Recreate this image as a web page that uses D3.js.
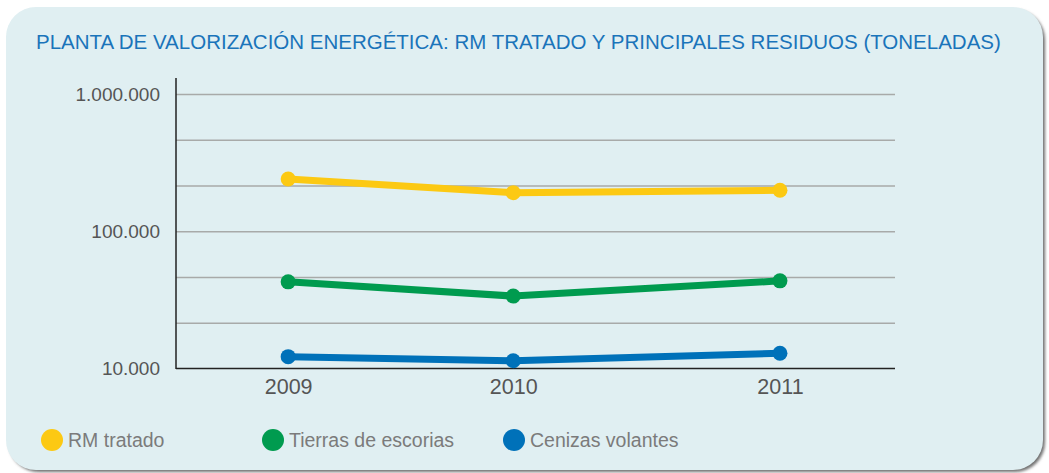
<!DOCTYPE html>
<html>
<head>
<meta charset="utf-8">
<script src="https://cdn.jsdelivr.net/npm/d3@7"></script>
<style>
  html, body { margin: 0; padding: 0; background: #fff; }
  svg { display: block; font-family: 'Liberation Sans', Arial, Helvetica, sans-serif; }
</style>
</head>
<body>
<div id="chart"></div>
<script>
const years = [2009, 2010, 2011]
const seriesNames = ['RM tratado', 'Tierras de escorias', 'Cenizas volantes']
const rmTratado = [240000, 191000, 199000]
const tierrasEscorias = [42800, 33700, 43500]
const cenizasVolantes = [12200, 11400, 12900]
const yTickLabels = [10000, 100000, 1000000]
const seriesColors = ['#fcc913', '#009b4f', '#0071b9']

const W = 1049, H = 473
const margin = { top: 94, left: 176, right: 154, bottom: 104.5 }
const plotW = W - margin.left - margin.right
const title = 'PLANTA DE VALORIZACIÓN ENERGÉTICA: RM TRATADO Y PRINCIPALES RESIDUOS (TONELADAS)'

const series = [rmTratado, tierrasEscorias, cenizasVolantes].map((values, i) => ({
  name: seriesNames[i],
  color: seriesColors[i],
  values: values.map((v, j) => ({ year: years[j], value: v }))
}))

const svg = d3.select('#chart').append('svg').attr('width', W).attr('height', H)

// panel + shadow
const defs = svg.append('defs')
const f = defs.append('filter').attr('id', 'blur').attr('x', '-5%').attr('y', '-5%').attr('width', '110%').attr('height', '110%')
f.append('feGaussianBlur').attr('stdDeviation', 1.5)
svg.append('rect').attr('x', 9).attr('y', 10).attr('width', 1036).attr('height', 462)
  .attr('rx', 30).attr('fill', '#6f6f6f').attr('filter', 'url(#blur)')
svg.append('rect').attr('x', 6).attr('y', 7).attr('width', 1037).attr('height', 463)
  .attr('rx', 30).attr('fill', '#e0eff2')

svg.append('text').attr('x', 36).attr('y', 49)
  .attr('fill', '#1a74ba').attr('font-size', 20.5).text(title)

// the source spaces the years unevenly, so the scale is piecewise
const x = d3.scaleLinear().domain(years)
  .range([0.156, 0.469, 0.84].map(t => margin.left + t * plotW))
const y = d3.scaleLog().domain([1e4, 1e6]).range([H - margin.bottom, margin.top])

// gridlines at thirds of a decade
const gridVals = d3.range(1, 7).map(k => Math.pow(10, 4 + k / 3))
svg.append('g').attr('class', 'grid')
  .attr('transform', `translate(${margin.left},0)`)
  .call(d3.axisLeft(y).tickValues(gridVals).tickSize(-plotW).tickFormat(''))
  .call(g => g.select('.domain').remove())
  .selectAll('line').attr('stroke', '#a8aaa9').attr('stroke-width', 1.4)

// y labels
const locale = d3.formatLocale({ decimal: ',', thousands: '.', grouping: [3], currency: ['', ''] })
const fmt = locale.format(',')
svg.append('g').attr('class', 'yAxis')
  .attr('transform', `translate(${margin.left},0)`)
  .call(d3.axisLeft(y).tickValues(yTickLabels).tickSize(0).tickPadding(16).tickFormat(fmt))
  .call(g => g.select('.domain').remove())
  .selectAll('text').attr('fill', '#555').attr('font-size', 19).attr('font-family', null)

// axis lines
svg.append('line').attr('x1', margin.left).attr('x2', margin.left)
  .attr('y1', 78).attr('y2', y(1e4) + 0.5).attr('stroke', '#222').attr('stroke-width', 1.5)
svg.append('g').attr('class', 'xAxis')
  .attr('transform', `translate(0,${y(1e4)})`)
  .call(d3.axisBottom(x).tickValues(years).tickFormat(d3.format('d')).tickSize(0).tickPadding(10).tickSizeOuter(0))
  .call(g => g.select('.domain').attr('d', `M${margin.left},0H${W - margin.right}`).attr('stroke', '#222').attr('stroke-width', 1.5))
  .selectAll('text').attr('fill', '#555').attr('font-size', 21.5).attr('font-family', null)

// lines
const line = d3.line().x(d => x(d.year)).y(d => y(d.value))
const sg = svg.selectAll('.series').data(series).enter().append('g').classed('series', true)
sg.append('path').attr('d', d => line(d.values)).attr('fill', 'none')
  .attr('stroke', d => d.color).attr('stroke-width', 7)
sg.selectAll('circle').data(d => d.values.map(v => Object.assign({ color: d.color }, v))).enter()
  .append('circle').attr('cx', d => x(d.year)).attr('cy', d => y(d.value)).attr('r', 7.5)
  .attr('fill', d => d.color)

// legend
const legendX = d3.scaleOrdinal().domain(seriesNames).range([52, 273, 514])
const lg = svg.selectAll('.legend').data(series).enter().append('g').classed('legend', true)
  .attr('transform', d => `translate(${legendX(d.name)},440)`)
lg.append('circle').attr('r', 11).attr('fill', d => d.color)
lg.append('text').attr('x', 16).attr('y', 6.5).attr('fill', '#7b7b7b').attr('font-size', 19.5)
  .text(d => d.name)
</script>
</body>
</html>
